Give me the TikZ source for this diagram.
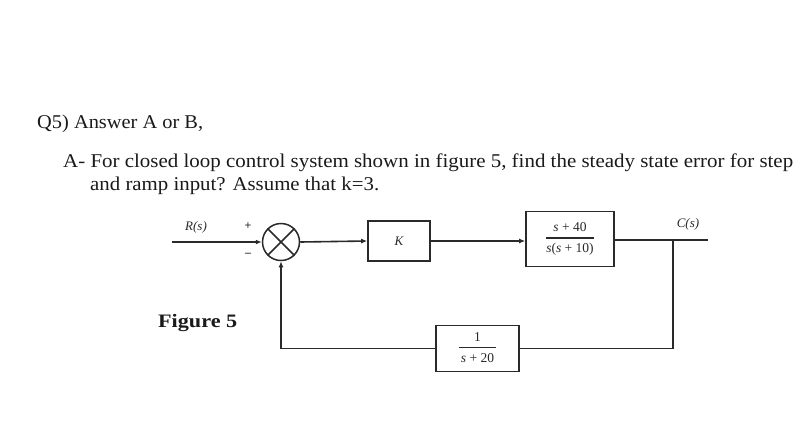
\documentclass[tikz,border=0pt]{standalone}
\usepackage{fontspec}
\setmainfont{Liberation Serif}
\usepackage{graphicx}
\usetikzlibrary{arrows.meta}
\definecolor{ink}{HTML}{2A2A2A}
\definecolor{txt}{HTML}{1A1A1A}
\tikzset{
  wire/.style={draw=ink, line width=1.6pt},
  arr/.style={wire, -{Latex[length=6pt,width=5pt]}},
  blockbox/.style={draw=ink, line width=1.6pt, fill=white, inner sep=0pt},
  sumjunc/.style={draw=ink, line width=1.5pt, circle, minimum size=37pt, inner sep=0pt},
  qtext/.style={anchor=base west, inner sep=0pt, text=txt},
  dlabel/.style={inner sep=0pt, text=ink, font=\fontsize{13.5}{15}\selectfont},
  ilabel/.style={inner sep=0pt, text=ink, font=\fontsize{13}{15}\selectfont\itshape},
}
\newcommand{\fracbox}[2]{\setlength{\tabcolsep}{0pt}\setlength{\arrayrulewidth}{1.4pt}\renewcommand{\arraystretch}{1.05}\begin{tabular}{c}#1\\[1pt]\hline\rule{0pt}{14pt}#2\end{tabular}}
\begin{document}
\begin{tikzpicture}[x=1pt,y=-1pt]
\useasboundingbox[fill=white] (0,0) rectangle (800,421);
% question text
\node[qtext] (q5) at (37,128) {\resizebox{166pt}{\height}{\fontsize{19.5}{22}\selectfont Q5) Answer A or B,}};
\node[qtext] (la) at (63,167) {\resizebox{730pt}{\height}{\fontsize{19.5}{22}\selectfont A- For closed loop control system shown in figure 5, find the steady state error for step}};
\node[qtext] (lb) at (90,190) {\resizebox{289pt}{\height}{\fontsize{19.5}{22}\selectfont and ramp input? Assume that k=3.}};
% diagram
\node[sumjunc] (sum) at (281,242) {};
\draw[wire, line width=1.5pt] (sum.45) -- (sum.225);
\draw[wire, line width=1.5pt] (sum.135) -- (sum.315);
\node[blockbox, minimum width=62pt, minimum height=40pt] (K) at (399,241) {};
\node[ilabel] (Klab) at (399,241) {K};
\node[blockbox, minimum width=88pt, minimum height=55pt] (G) at (570,239) {};
\node[dlabel] (Glab) at (570,239) {\fracbox{\textit{s} + 40}{\textit{s}(\textit{s} + 10)}};
\node[blockbox, minimum width=83pt, minimum height=46pt] (H) at (477.5,348.5) {};
\node[dlabel] (Hlab) at (477.5,348.5) {\fracbox{1}{\,\textit{s} + 20\,}};
\coordinate (rin) at (172,242);
\coordinate (cout) at (708,240);
\coordinate (br) at (673,240);
\node[ilabel] (Rlab) at (196,227) {R(s)};
\node[ilabel] (Clab) at (688,224) {C(s)};
\node[inner sep=0pt, text=ink, font=\fontsize{12}{12}\selectfont\bfseries] (plus) at (248,226) {+};
\node[inner sep=0pt, text=ink, font=\fontsize{12}{12}\selectfont\bfseries] (minus) at (248,255) {–};
\node[anchor=base west, inner sep=0pt, text=txt] (fig) at (158,327) {\resizebox{79pt}{\height}{\fontsize{19}{22}\selectfont\bfseries Figure 5}};
\draw[arr] (rin) -- (sum.west);
\draw[arr] (sum.east) -- (K.west);
\draw[arr] (K.east) -- (K.east -| G.west);
\draw[wire] (G.east |- cout) -- (cout);
\draw[wire] (br) |- (H.east);
\draw[arr] (H.west) -| (sum.south);
\end{tikzpicture}
\end{document}
